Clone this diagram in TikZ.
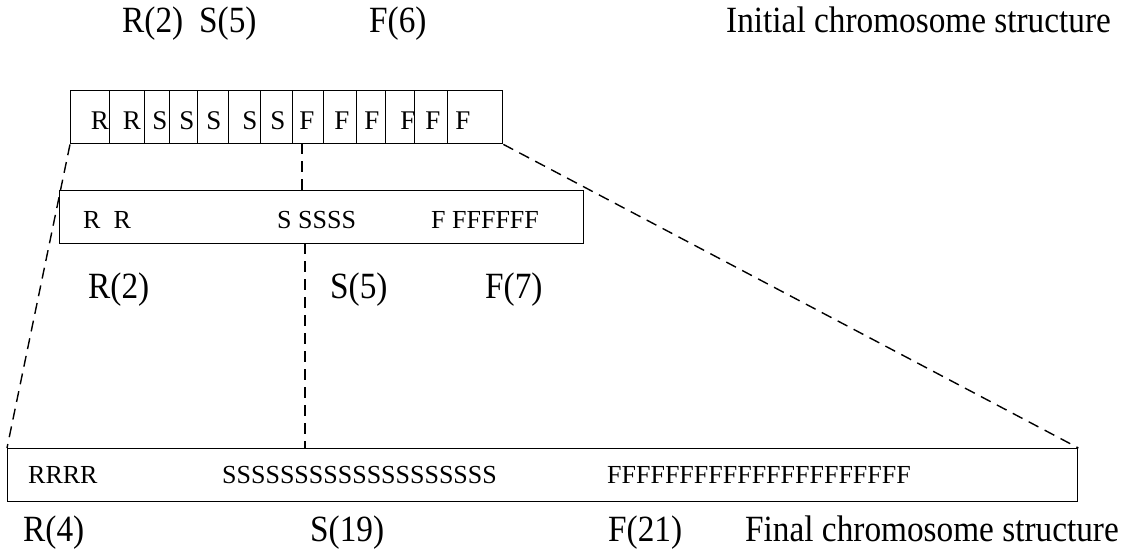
\documentclass[tikz,border=0pt]{standalone}
\usepackage{fontspec}
\setmainfont{Liberation Serif}
\newfontfamily\labfont[FakeStretch=0.9]{Liberation Serif}
\begin{document}
\begin{tikzpicture}[x=1pt,y=-1pt,
  box/.style={draw, line width=1.4pt, inner sep=0pt, anchor=north west},
  celltxt/.style={font=\fontsize{27}{27}\selectfont, anchor=base, inner sep=0pt},
  seq/.style={font=\fontsize{26}{26}\selectfont, anchor=base west, inner sep=0pt},
  lab/.style={font=\labfont\fontsize{37}{37}\selectfont, anchor=base west, inner sep=0pt},
  dsh/.style={line width=1.4pt, dash pattern=on 11pt off 7pt}]
\useasboundingbox (0,0) rectangle (1143,551);
% top row of cells
\foreach \a/\b [count=\i] in {70/109,109/144,144/169,169/197,197/228,228/260,260/292,292/323,323/356,356/385,385/414,414/447,447/502}{
  \node[box, minimum width={(\b-\a)*1pt}, minimum height=53pt] (cell\i) at (\a,90) {};
}
\foreach \xx/\ltr [count=\i] in {100/R,132/R,160/S,187/S,214/S,250/S,278/S,307/F,342/F,372/F,408/F,433/F,463/F}{
  \node[celltxt] (ct\i) at (\xx,129) {\ltr};
}
% middle box
\node[box, minimum width=524pt, minimum height=53pt] (mid) at (59,190) {};
\node[seq] (m1) at (83,228) {R\ \ R};
\node[seq] (m2) at (277,228) {S SSSS};
\node[seq] (m3) at (431,228) {F FFFFFF};
% bottom box
\node[box, minimum width=1070pt, minimum height=53pt] (bot) at (7,448) {};
\node[seq] (b1) at (28,483) {RRRR};
\node[seq] (b2) at (222,483) {SSSSSSSSSSSSSSSSSSS};
\node[seq] (b3) at (607,483) {FFFFFFFFFFFFFFFFFFFFF};
% connectors
\coordinate (v1) at (302,143);
\coordinate (v2) at (302,190);
\coordinate (v3) at (305,243);
\coordinate (v4) at (305,448);
\draw[dsh] (cell1.south west) -- (bot.north west);
\draw[dsh] (cell13.south east) -- (bot.north east);
\draw[dsh] (v1) -- (v2);
\draw[dsh] (v3) -- (v4);
% labels
\node[lab] (l1) at (122,33) {R(2)};
\node[lab] (l2) at (199,33) {S(5)};
\node[lab] (l3) at (369,33) {F(6)};
\node[lab] (l4) at (726,33) {Initial chromosome structure};
\node[lab] (l5) at (88,298) {R(2)};
\node[lab] (l6) at (330,298) {S(5)};
\node[lab] (l7) at (485,298) {F(7)};
\node[lab] (l8) at (23,541) {R(4)};
\node[lab] (l9) at (310,541) {S(19)};
\node[lab] (l10) at (608,541) {F(21)};
\node[lab] (l11) at (745,541) {Final chromosome structure};
\end{tikzpicture}
\end{document}
